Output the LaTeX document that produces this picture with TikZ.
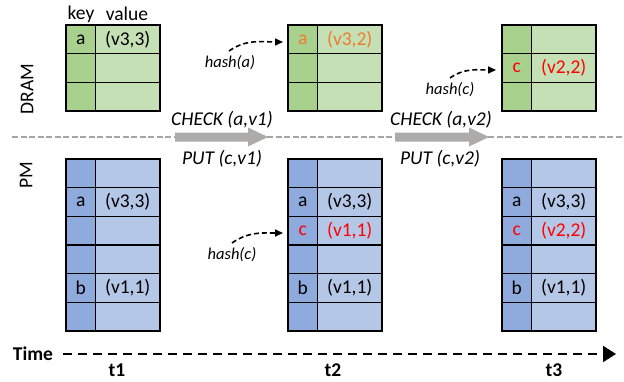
\documentclass[tikz,border=0pt]{standalone}
\usepackage{fontspec}
\setmainfont{Carlito}
\usetikzlibrary{arrows.meta}
\definecolor{gk}{HTML}{A9D18E}
\definecolor{gv}{HTML}{C5E0B4}
\definecolor{bk}{HTML}{8FAADC}
\definecolor{bv}{HTML}{B4C7E7}
\definecolor{garrow}{HTML}{AEABAB}
\definecolor{gline}{HTML}{A6A6A6}
\definecolor{orng}{HTML}{ED7D31}
\definecolor{rd}{HTML}{FF0000}
\begin{document}
\begin{tikzpicture}[x=1pt,y=-1pt,
  keyc/.style={draw=black, line width=1.2pt, minimum width=29.5pt, minimum height=28.67pt, inner sep=0pt, outer sep=0pt, anchor=north west},
  valc/.style={draw=black, line width=1.2pt, minimum width=64.5pt, minimum height=28.67pt, inner sep=0pt, outer sep=0pt, anchor=north west},
  ctxt/.style={font=\fontsize{19.5}{22}\selectfont, inner sep=0pt},
  optxt/.style={font=\fontsize{19.5}{22}\selectfont\itshape, inner sep=0pt},
  hashtxt/.style={font=\fontsize{16.5}{19}\selectfont\itshape, inner sep=0pt},
  boldtxt/.style={font=\fontsize{19.5}{22}\selectfont\bfseries, inner sep=0pt},
  hasharrow/.style={draw=black, line width=1.6pt, dash pattern=on 5pt off 3pt, -{Triangle[length=8pt,width=7pt]}},
  timearrow/.style={draw=black, line width=2pt, dash pattern=on 9pt off 6pt, -{Triangle[length=13pt,width=16pt]}},
  bigarrow/.style={fill=garrow, draw=none}
]
\useasboundingbox (0,0) rectangle (624,381);

% DRAM tables
\foreach \n/\x in {1/66,2/288,3/502}{
  \foreach \r in {1,2,3}{
    \node[keyc, fill=gk] (d\n-\r-k) at (\x, {25+(\r-1)*28.67}) {};
    \node[valc, fill=gv] (d\n-\r-v) at (\x+29.5, {25+(\r-1)*28.67}) {};
  }
}
% PM tables
\foreach \n/\x in {1/66,2/288,3/502}{
  \foreach \r in {1,...,6}{
    \node[keyc, fill=bk] (p\n-\r-k) at (\x, {159+(\r-1)*28.67}) {};
    \node[valc, fill=bv] (p\n-\r-v) at (\x+29.5, {159+(\r-1)*28.67}) {};
  }
}

% headers
\node[ctxt] (hkey) at (81,14) {key};
\node[ctxt] (hval) at (127,14) {value};
\node[ctxt, rotate=90] (ldram) at (27,89) {DRAM};
\node[ctxt, rotate=90] (lpm) at (26,175) {PM};

% DRAM contents
\node[ctxt] (d1a) at (d1-1-k) {a};
\node[ctxt] (d1av) at (d1-1-v) {(v3,3)};
\node[ctxt, text=orng] (d2a) at (d2-1-k) {a};
\node[ctxt, text=orng] (d2av) at (d2-1-v) {(v3,2)};
\node[ctxt, text=rd] (d3c) at (d3-2-k) {c};
\node[ctxt, text=rd] (d3cv) at (d3-2-v) {(v2,2)};

% PM contents
\node[ctxt] (p1a) at (p1-2-k) {a};
\node[ctxt] (p1av) at (p1-2-v) {(v3,3)};
\node[ctxt] (p1b) at (p1-5-k) {b};
\node[ctxt] (p1bv) at (p1-5-v) {(v1,1)};
\node[ctxt] (p2a) at (p2-2-k) {a};
\node[ctxt] (p2av) at (p2-2-v) {(v3,3)};
\node[ctxt, text=rd] (p2c) at (p2-3-k) {c};
\node[ctxt, text=rd] (p2cv) at (p2-3-v) {(v1,1)};
\node[ctxt] (p2b) at (p2-5-k) {b};
\node[ctxt] (p2bv) at (p2-5-v) {(v1,1)};
\node[ctxt] (p3a) at (p3-2-k) {a};
\node[ctxt] (p3av) at (p3-2-v) {(v3,3)};
\node[ctxt, text=rd] (p3c) at (p3-3-k) {c};
\node[ctxt, text=rd] (p3cv) at (p3-3-v) {(v2,2)};
\node[ctxt] (p3b) at (p3-5-k) {b};
\node[ctxt] (p3bv) at (p3-5-v) {(v1,1)};

% divider
\coordinate (divl) at (12,137);
\coordinate (divr) at (624,137);
\draw[gline, line width=2.5pt, dash pattern=on 6pt off 2.5pt] (divl) -- (divr);

% big gray arrows
\fill[bigarrow] (175,132.5) -- (248,132.5) -- (248,127.5) -- (268,137) -- (248,146.5) -- (248,141.5) -- (175,141.5) -- cycle;
\fill[bigarrow] (395,132.5) -- (469,132.5) -- (469,127.5) -- (489,137) -- (469,146.5) -- (469,141.5) -- (395,141.5) -- cycle;

\node[optxt] (chk1) at (222,120) {CHECK (a,v1)};
\node[optxt] (put1) at (222,159) {PUT (c,v1)};
\node[optxt] (chk2) at (441,120) {CHECK (a,v2)};
\node[optxt] (put2) at (440,159) {PUT (c,v2)};

% hash labels and arrows
\node[hashtxt] (ha) at (230,63) {hash(a)};
\node[hashtxt] (hc1) at (450,90) {hash(c)};
\node[hashtxt] (hc2) at (232,255) {hash(c)};
\coordinate (ha-s) at (229,51);
\coordinate (ha-e) at (283,42);
\coordinate (hc1-s) at (450,78);
\coordinate (hc1-e) at (496,70);
\coordinate (hc2-s) at (232,243);
\coordinate (hc2-e) at (283,233);
\draw[hasharrow] (ha-s) to[out=35,in=180] (ha-e);
\draw[hasharrow] (hc1-s) to[out=35,in=180] (hc1-e);
\draw[hasharrow] (hc2-s) to[out=35,in=180] (hc2-e);

% time axis
\node[boldtxt] (time) at (33,354) {Time};
\coordinate (ts) at (63,354);
\coordinate (te) at (616,354);
\draw[timearrow] (ts) -- (te);
\node[boldtxt] (t1) at (117,370) {t1};
\node[boldtxt] (t2) at (333,370) {t2};
\node[boldtxt] (t3) at (554,370) {t3};
\end{tikzpicture}
\end{document}
